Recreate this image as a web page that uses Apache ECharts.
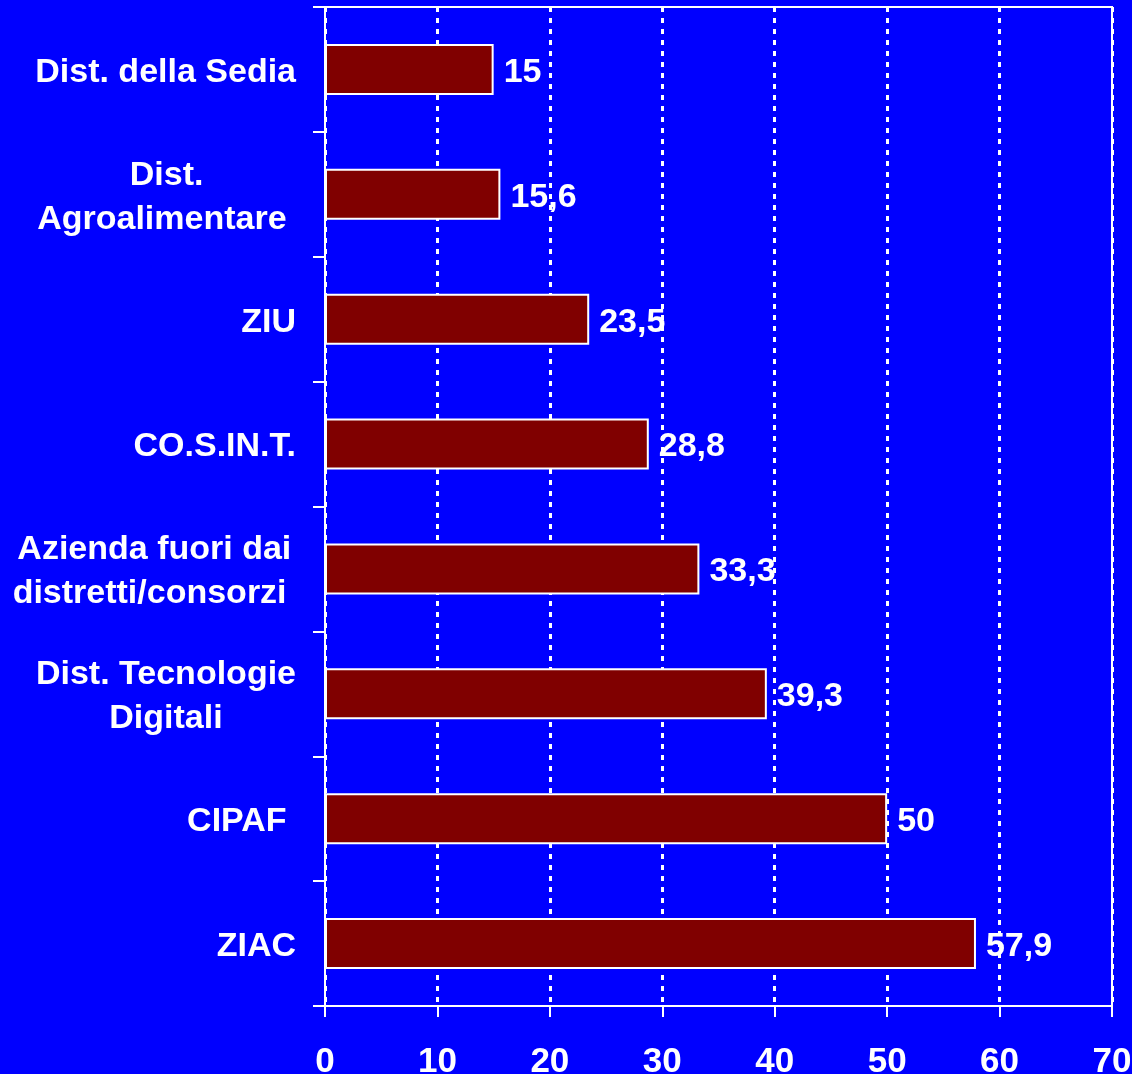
<!DOCTYPE html>
<html>
<head>
<meta charset="utf-8">
<script src="https://cdn.jsdelivr.net/npm/echarts@6/dist/echarts.min.js"></script>
<style>
html,body{margin:0;padding:0;background:#0000FF;}
#chart{width:1132px;height:1074px;}
</style>
</head>
<body>
<div id="chart"></div>
<script>
const categories = [
  "Dist. della Sedia",
  "Dist.\nAgroalimentare ",
  "ZIU",
  "CO.S.IN.T.",
  "Azienda fuori dai\ndistretti/consorzi ",
  "Dist. Tecnologie\nDigitali",
  "CIPAF ",
  "ZIAC"
];
const values = [15, 15.6, 23.5, 28.8, 33.3, 39.3, 50, 57.9];
const xTicks = [0, 10, 20, 30, 40, 50, 60, 70];

const chart = echarts.init(document.getElementById('chart'));
const font = 'Liberation Sans, Arial, sans-serif';
chart.setOption({
  backgroundColor: '#0000FF',
  animation: false,
  grid: {
    left: 325, right: 20, top: 7, bottom: 68,
    outerBoundsMode: 'none',
    show: true, borderColor: '#FFFFFF', borderWidth: 2, backgroundColor: 'transparent'
  },
  xAxis: {
    type: 'value',
    min: xTicks[0], max: xTicks[xTicks.length - 1], interval: 10,
    axisLine: { show: true, lineStyle: { color: '#FFFFFF', width: 2 } },
    axisTick: { show: true, length: 11, lineStyle: { color: '#FFFFFF', width: 2 } },
    splitLine: { show: true, lineStyle: { color: '#FFFFFF', width: 3, type: [5, 6] } },
    axisLabel: {
      color: '#FFFFFF', fontFamily: font, fontWeight: 'bold', fontSize: 35,
      margin: 39, showMaxLabel: true, showMinLabel: true
    }
  },
  yAxis: {
    type: 'category',
    inverse: true,
    data: categories,
    axisLine: { show: true, lineStyle: { color: '#FFFFFF', width: 2 } },
    axisTick: { show: true, length: 12, lineStyle: { color: '#FFFFFF', width: 2 } },
    splitLine: { show: false },
    axisLabel: {
      color: '#FFFFFF', fontFamily: font, fontWeight: 'bold', fontSize: 34,
      margin: 29, align: 'right', lineHeight: 44, padding: [6, 0, 0, 0],
      formatter: v => v.split('\n').map(s => '{c|' + s + '}').join('\n'),
      rich: { c: { align: 'center', color: '#FFFFFF', fontFamily: font, fontWeight: 'bold', fontSize: 34, lineHeight: 44 } }
    }
  },
  series: [{
    type: 'bar',
    data: values,
    barWidth: 51,
    itemStyle: { color: '#800000', borderColor: '#FFFFFF', borderWidth: 2 },
    label: {
      show: true, position: 'right', distance: 10, offset: [0, 3],
      color: '#FFFFFF', fontFamily: font, fontWeight: 'bold', fontSize: 34,
      formatter: p => String(p.value).replace('.', ',')
    }
  }]
});
</script>
</body>
</html>
